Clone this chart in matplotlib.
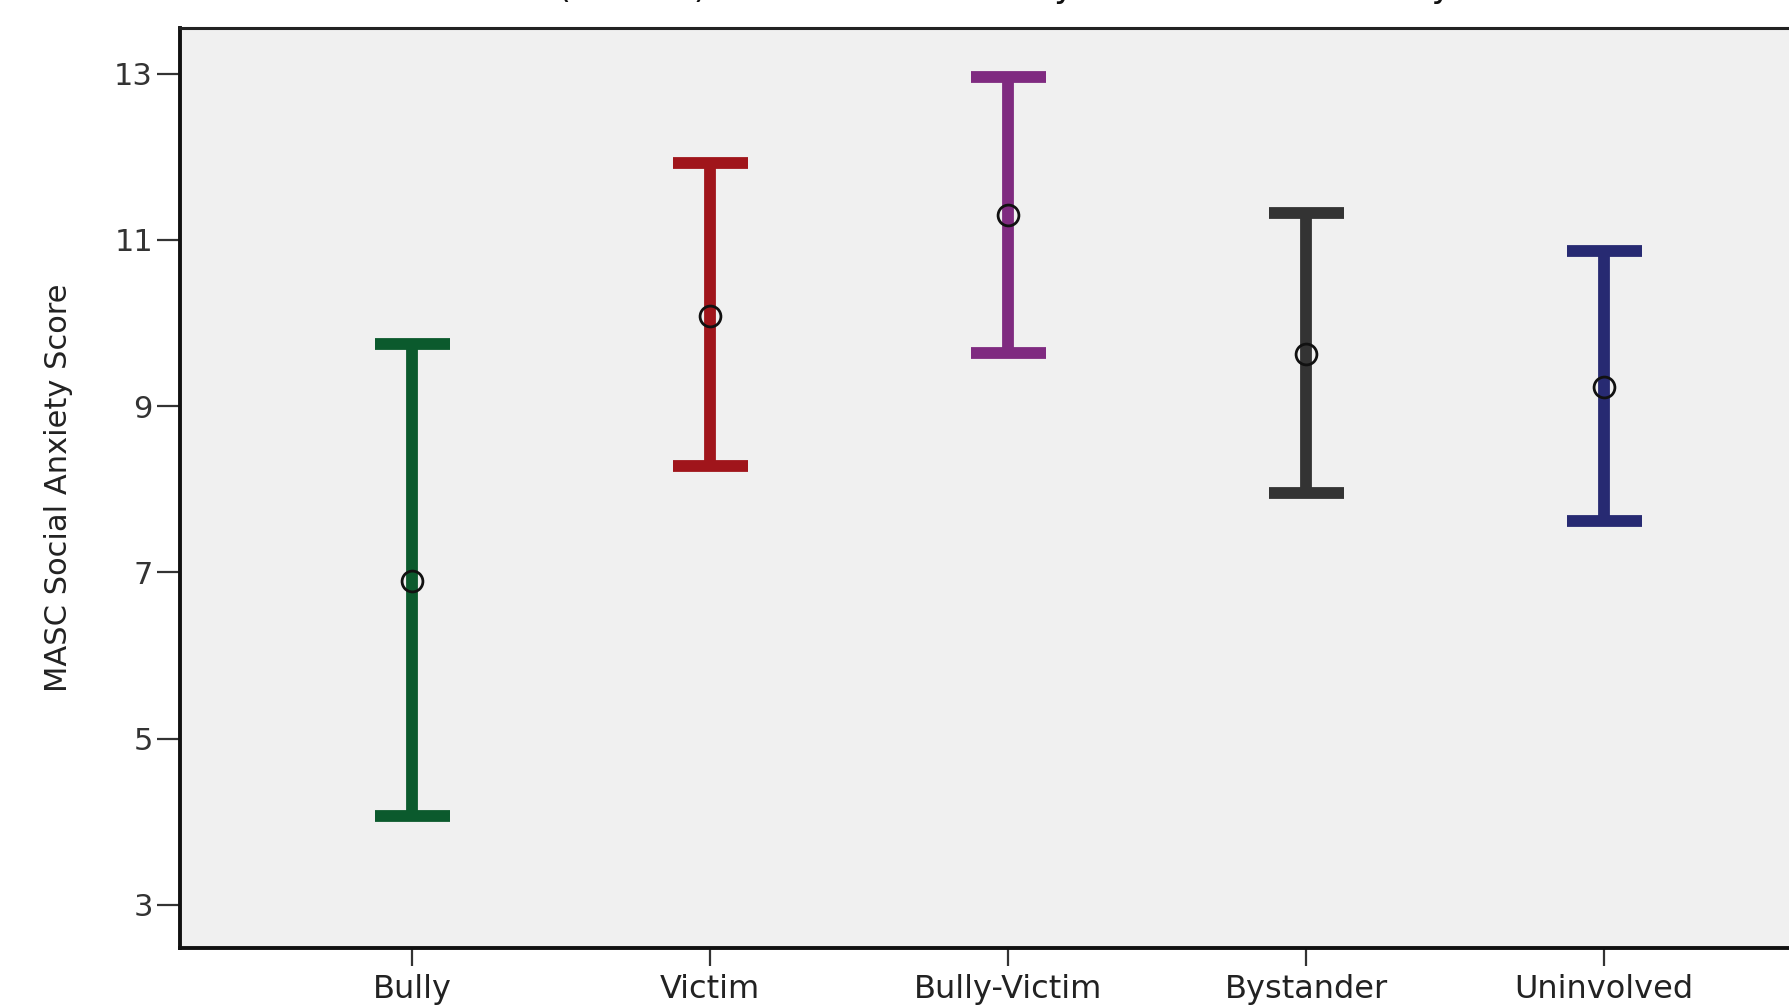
import matplotlib.pyplot as plt

# group means and 95% CI bounds
groups = ["Bully", "Victim", "Bully-Victim", "Bystander", "Uninvolved"]
means = [6.90, 10.09, 11.30, 9.63, 9.23]
ci_low = [4.07, 8.28, 9.64, 7.95, 7.62]
ci_high = [9.75, 11.92, 12.96, 11.33, 10.87]
colors = ["#0b5a2d", "#a0151b", "#7f2a80", "#333333", "#272a72"]
yticks = [3, 5, 7, 9, 11, 13]

fig = plt.figure(figsize=(17.9, 10.08), dpi=100)
ax = fig.add_axes([0.1006, 0.0595, 0.8994, 0.9127])
ax.set_facecolor("#f0f0f0")

xs = list(range(1, len(groups) + 1))
for x, m, lo, hi, c in zip(xs, means, ci_low, ci_high, colors):
    ax.errorbar([x], [m], yerr=[[m - lo], [hi - m]], fmt="none",
                ecolor=c, elinewidth=8.5, capsize=27, capthick=8.5, zorder=2)
ax.plot(xs, means, linestyle="none", marker="o", markersize=15,
        markerfacecolor="none", markeredgecolor="#111111",
        markeredgewidth=2.0, zorder=3)

ax.set_xlim(0.221, 5.624)
ax.set_ylim(2.48, 13.55)
ax.set_xticks(xs)
ax.set_xticklabels(groups, fontsize=23, color="#222222")
ax.set_yticks(yticks)
ax.set_yticklabels([str(v) for v in yticks], fontsize=22, color="#333333")
ax.tick_params(axis="y", length=16.5, width=1.6, color="#333333", pad=3)
ax.tick_params(axis="x", length=13, width=1.6, color="#333333", pad=6)

for side in ["left", "bottom"]:
    ax.spines[side].set_linewidth(2.8)
    ax.spines[side].set_color("#111111")
ax.spines["top"].set_linewidth(2.2)
ax.spines["top"].set_color("#222222")
ax.spines["right"].set_visible(False)

ax.set_ylabel("MASC Social Anxiety Score", fontsize=22, color="#222222")
ax.yaxis.set_label_coords(-0.0665, 0.5)

# title is cut off by the top edge in the original, only descenders show
fig.text(0.556, 1.003, "Mean (95% CI) MASC Social Anxiety Scores for Each Bully Role",
         ha="center", va="baseline", fontsize=25, color="#111111")

fig.savefig("out.png", dpi=100)
